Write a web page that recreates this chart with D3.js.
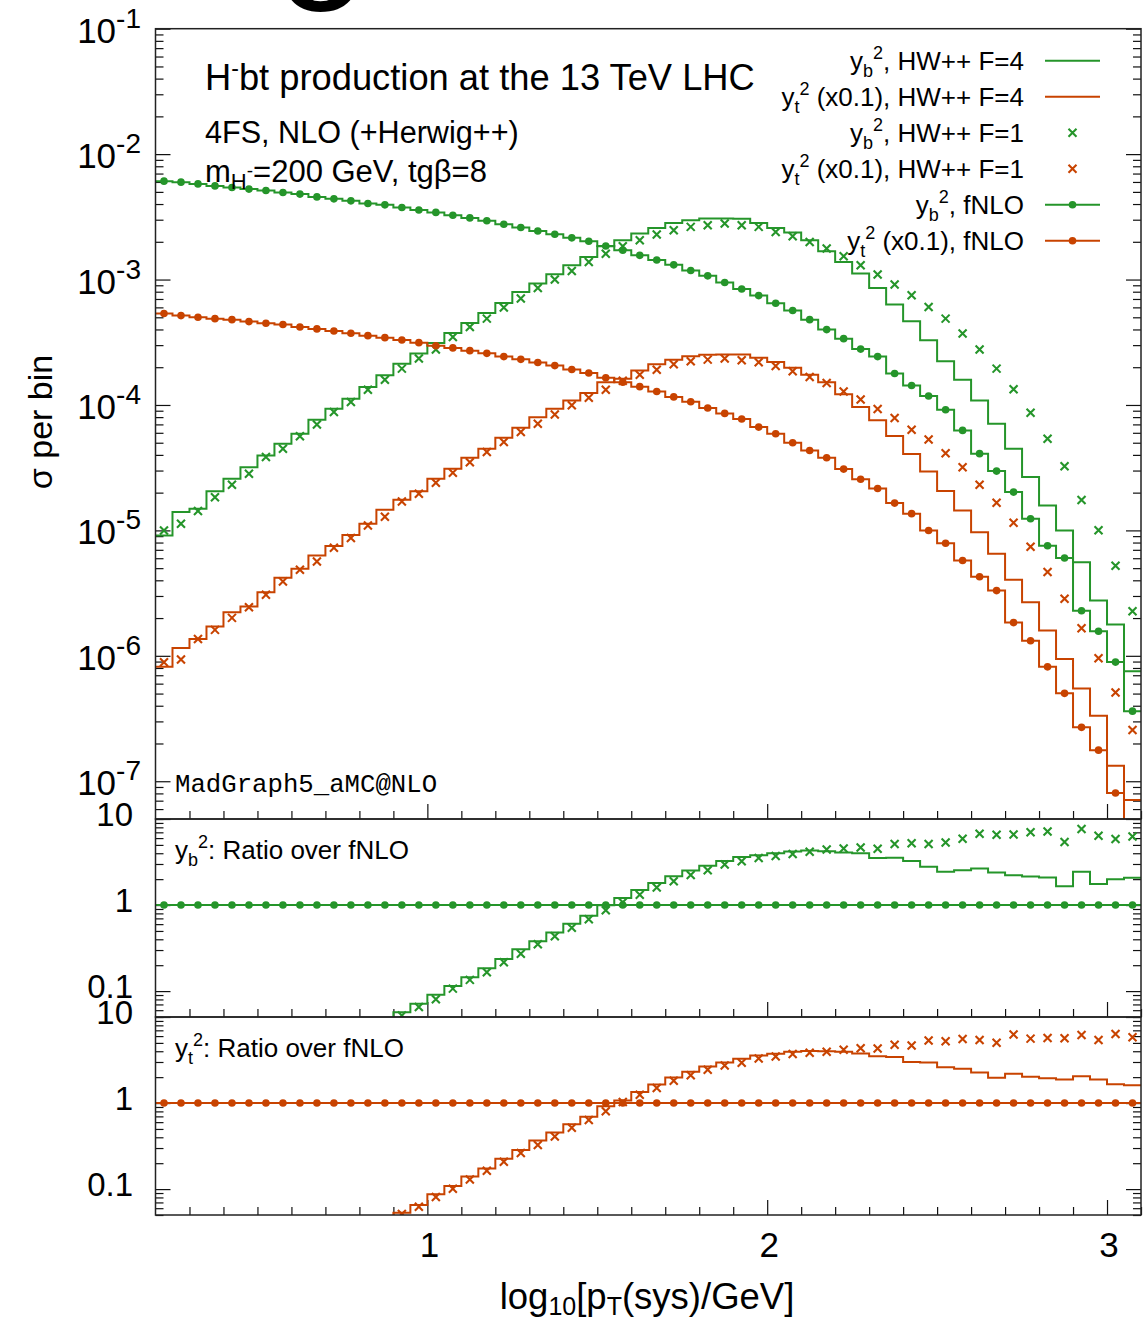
<!DOCTYPE html>
<html><head><meta charset="utf-8">
<script src="https://cdn.jsdelivr.net/npm/d3@7"></script>
<style>
body{margin:0;background:#fff}
svg text{font-family:"Liberation Sans",Arial,Helvetica,sans-serif;fill:#000}
</style>
</head><body>
<svg id="c" width="1148" height="1321"></svg>
<script>
// ---------------- DATA ----------------
// lower edges of the log10[pT/GeV] bins (bin width 0.05), last bin ends at 3.10
const binLowEdges = [0.20,0.25,0.30,0.35,0.40,0.45,0.50,0.55,0.60,0.65,0.70,0.75,0.80,0.85,0.90,0.95,
  1.00,1.05,1.10,1.15,1.20,1.25,1.30,1.35,1.40,1.45,1.50,1.55,1.60,1.65,1.70,1.75,1.80,1.85,1.90,1.95,
  2.00,2.05,2.10,2.15,2.20,2.25,2.30,2.35,2.40,2.45,2.50,2.55,2.60,2.65,2.70,2.75,2.80,2.85,2.90,2.95,3.00,3.05];
const binUpperLast = 3.10;

// y_b^2, fNLO
const ybFNLO = [6.09e-3,5.98e-3,5.79e-3,5.58e-3,5.42e-3,5.26e-3,5.13e-3,4.95e-3,4.80e-3,4.56e-3,
  4.40e-3,4.24e-3,4.04e-3,3.94e-3,3.75e-3,3.59e-3,3.43e-3,3.26e-3,3.10e-3,2.94e-3,
  2.76e-3,2.60e-3,2.44e-3,2.30e-3,2.15e-3,2.02e-3,1.85e-3,1.71e-3,1.56e-3,1.43e-3,
  1.31e-3,1.18e-3,1.07e-3,9.46e-4,8.41e-4,7.45e-4,6.47e-4,5.66e-4,4.79e-4,3.99e-4,
  3.38e-4,2.79e-4,2.43e-4,1.78e-4,1.43e-4,1.18e-4,9.17e-5,6.27e-5,4.09e-5,2.97e-5,
  2.02e-5,1.24e-5,7.54e-6,6.02e-6,2.29e-6,1.57e-6,8.91e-7,3.62e-7];
// y_t^2 (x0.1), fNLO
const ytFNLO = [5.36e-4,5.16e-4,5.00e-4,4.88e-4,4.79e-4,4.62e-4,4.48e-4,4.38e-4,4.19e-4,4.04e-4,
  3.89e-4,3.73e-4,3.57e-4,3.44e-4,3.30e-4,3.14e-4,2.97e-4,2.85e-4,2.71e-4,2.58e-4,
  2.43e-4,2.31e-4,2.18e-4,2.06e-4,1.92e-4,1.80e-4,1.65e-4,1.52e-4,1.40e-4,1.28e-4,
  1.16e-4,1.06e-4,9.45e-5,8.57e-5,7.72e-5,6.66e-5,5.90e-5,5.00e-5,4.34e-5,3.80e-5,
  3.08e-5,2.56e-5,2.16e-5,1.65e-5,1.36e-5,9.98e-6,7.90e-6,5.75e-6,4.27e-6,3.31e-6,
  1.84e-6,1.32e-6,8.17e-7,5.02e-7,2.69e-7,1.77e-7,8.05e-8,4.4e-8];
// y_b^2, HW++ F=4
const ybHW4 = [9.11e-6,1.402e-5,1.487e-5,2.056e-5,2.58e-5,3.19e-5,3.96e-5,4.91e-5,5.90e-5,7.63e-5,
  9.34e-5,1.123e-4,1.39e-4,1.723e-4,2.136e-4,2.567e-4,3.119e-4,3.748e-4,4.504e-4,5.41e-4,
  6.51e-4,7.96e-4,9.29e-4,1.102e-3,1.30e-3,1.515e-3,1.845e-3,2.059e-3,2.33e-3,2.58e-3,
  2.83e-3,2.974e-3,3.067e-3,3.067e-3,3.05e-3,2.83e-3,2.58e-3,2.372e-3,2.059e-3,1.682e-3,
  1.382e-3,1.117e-3,8.57e-4,6.32e-4,4.65e-4,3.28e-4,2.228e-4,1.592e-4,1.088e-4,7.09e-5,
  4.48e-5,2.66e-5,1.58e-5,9.98e-6,5.58e-6,2.757e-6,1.774e-6,7.52e-7];
// y_t^2 (x0.1), HW++ F=4
const ytHW4 = [8.20e-7,1.157e-6,1.364e-6,1.710e-6,2.225e-6,2.47e-6,3.212e-6,4.185e-6,4.94e-6,6.30e-6,
  7.51e-6,9.17e-6,1.129e-5,1.46e-5,1.755e-5,2.056e-5,2.58e-5,3.10e-5,3.80e-5,4.48e-5,
  5.48e-5,6.59e-5,8.0e-5,9.34e-5,1.088e-4,1.245e-4,1.515e-4,1.622e-4,1.882e-4,2.109e-4,
  2.291e-4,2.443e-4,2.51e-4,2.53e-4,2.53e-4,2.376e-4,2.204e-4,1.978e-4,1.745e-4,1.515e-4,
  1.215e-4,9.62e-5,7.54e-5,5.67e-5,4.07e-5,2.953e-5,2.063e-5,1.441e-5,9.67e-6,6.51e-6,
  4.034e-6,2.673e-6,1.589e-6,9.45e-7,5.50e-7,3.332e-7,1.33e-7,7.08e-8];
// y_b^2, HW++ F=1
const ybHW1 = [9.98e-6,1.129e-5,1.428e-5,1.841e-5,2.311e-5,2.83e-5,3.84e-5,4.48e-5,5.62e-5,7.0e-5,
  8.78e-5,1.055e-4,1.325e-4,1.592e-4,1.949e-4,2.342e-4,2.763e-4,3.483e-4,4.185e-4,4.88e-4,
  5.98e-4,7.05e-4,8.57e-4,1.0e-3,1.171e-3,1.382e-3,1.607e-3,1.845e-3,2.059e-3,2.287e-3,
  2.474e-3,2.63e-3,2.713e-3,2.799e-3,2.713e-3,2.63e-3,2.398e-3,2.216e-3,1.996e-3,1.768e-3,
  1.535e-3,1.30e-3,1.096e-3,9.12e-4,7.49e-4,6.04e-4,4.88e-4,3.707e-4,2.763e-4,1.949e-4,
  1.332e-4,8.68e-5,5.38e-5,3.253e-5,1.748e-5,1.004e-5,5.22e-6,2.262e-6];
// y_t^2 (x0.1), HW++ F=1
const ytHW1 = [8.87e-7,9.33e-7,1.364e-6,1.61e-6,2.007e-6,2.438e-6,3.062e-6,3.91e-6,4.85e-6,5.65e-6,
  7.28e-6,8.70e-6,1.094e-5,1.284e-5,1.70e-5,1.96e-5,2.398e-5,2.882e-5,3.50e-5,4.21e-5,
  5.06e-5,6.08e-5,7.09e-5,8.41e-5,9.93e-5,1.144e-4,1.325e-4,1.563e-4,1.745e-4,1.913e-4,
  2.109e-4,2.228e-4,2.299e-4,2.342e-4,2.27e-4,2.188e-4,2.044e-4,1.854e-4,1.67e-4,1.496e-4,
  1.28e-4,1.108e-4,9.27e-5,7.86e-5,6.35e-5,5.31e-5,4.13e-5,3.19e-5,2.311e-5,1.664e-5,
  1.15e-5,7.40e-6,4.66e-6,2.846e-6,1.658e-6,9.55e-7,5.11e-7,2.562e-7];

// tick values / labels
const xMajorTicks = [1, 2, 3];
const xMajorLabels = ["1", "2", "3"];
const xMinorTicks = [0.3,0.4,0.5,0.6,0.7,0.8,0.9,1.1,1.2,1.3,1.4,1.5,1.6,1.7,1.8,1.9,2.1,2.2,2.3,2.4,2.5,2.6,2.7,2.8,2.9,3.1];
const mainMajorTicks = [1e-7,1e-6,1e-5,1e-4,1e-3,1e-2,1e-1];
const mainMajorExp = ["-7","-6","-5","-4","-3","-2","-1"];
const ratioMajorTicks = [0.1, 1, 10];
const ratioMajorLabels = ["0.1", "1", "10"];

const legendItems = [
  {base:"y", sub:"b", rest:", HW++ F=4", color:"green", kind:"line"},
  {base:"y", sub:"t", rest:" (x0.1), HW++ F=4", color:"orange", kind:"line"},
  {base:"y", sub:"b", rest:", HW++ F=1", color:"green", kind:"cross"},
  {base:"y", sub:"t", rest:" (x0.1), HW++ F=1", color:"orange", kind:"cross"},
  {base:"y", sub:"b", rest:", fNLO", color:"green", kind:"linedot"},
  {base:"y", sub:"t", rest:" (x0.1), fNLO", color:"orange", kind:"linedot"}
];

// ---------------- LAYOUT ----------------
const COL = {green:"#25952a", orange:"#c84300"};
const L = 155.5, R = 1141, T = 28.7, B0 = 819, B1 = 1017, B2 = 1215;
const svg = d3.select("#c");
svg.append("rect").attr("width",1148).attr("height",1321).attr("fill","#fff");

const x = d3.scaleLinear().domain([binLowEdges[0], binUpperLast]).range([L, R]);
const yMain = d3.scaleLog().domain([5e-8, 0.1]).range([B0, T]);
const yR1 = d3.scaleLog().domain([0.05, 10]).range([B1, B0]);
const yR2 = d3.scaleLog().domain([0.05, 10]).range([B2, B1]);
const binW = binLowEdges[1] - binLowEdges[0];

const defs = svg.append("defs");
function clip(id, y0, y1){
  defs.append("clipPath").attr("id", id).append("rect")
    .attr("x", L).attr("y", y0).attr("width", R - L).attr("height", y1 - y0);
}
clip("cm", T, B0); clip("c1", B0, B1); clip("c2", B1, B2);

// cropped glyph of a heading above the figure (only its bottom edge is visible)
svg.append("text").attr("x", 321).attr("y", 10).attr("text-anchor", "middle")
  .attr("font-size", 165).text("o");

// minor log ticks
function logMinors(lo, hi){
  const out = [];
  for (let e = Math.floor(Math.log10(lo)) ; e <= Math.ceil(Math.log10(hi)); e++)
    for (let k = 2; k <= 9; k++){ const v = k * Math.pow(10, e); if (v >= lo*0.999 && v <= hi*1.001) out.push(v); }
  return out;
}

function yAxes(scale, majors, minors){
  const g = svg.append("g");
  const add = (axis, tx) => g.append("g").attr("transform", `translate(${tx},0)`).call(axis)
      .call(s => s.select(".domain").remove())
      .call(s => s.selectAll("line").attr("stroke", "#111").attr("stroke-width", 1.2));
  add(d3.axisRight(scale).tickValues(majors).tickSize(15).tickFormat(""), L);
  add(d3.axisRight(scale).tickValues(minors).tickSize(8).tickFormat(""), L);
  add(d3.axisLeft(scale).tickValues(majors).tickSize(15).tickFormat(""), R);
  add(d3.axisLeft(scale).tickValues(minors).tickSize(8).tickFormat(""), R);
}
function xAxisAt(yb){
  const g = svg.append("g");
  const add = (axis) => g.append("g").attr("transform", `translate(0,${yb})`).call(axis)
      .call(s => s.select(".domain").remove())
      .call(s => s.selectAll("line").attr("stroke", "#111").attr("stroke-width", 1.2));
  add(d3.axisTop(x).tickValues(xMajorTicks).tickSize(15).tickFormat(""));
  add(d3.axisTop(x).tickValues(xMinorTicks).tickSize(8).tickFormat(""));
}

yAxes(yMain, mainMajorTicks, logMinors(5e-8, 0.1));
yAxes(yR1, ratioMajorTicks, logMinors(0.05, 10));
yAxes(yR2, ratioMajorTicks, logMinors(0.05, 10));
xAxisAt(B0); xAxisAt(B1); xAxisAt(B2);

// ---------------- SERIES ----------------
function stepPoints(vals){
  return binLowEdges.map((e, i) => [e, vals[i]]).concat([[binUpperLast, vals[vals.length - 1]]]);
}
function drawStep(g, yS, vals, color){
  g.append("path").datum(stepPoints(vals))
    .attr("d", d3.line().x(d => x(d[0])).y(d => yS(d[1])).curve(d3.curveStepAfter))
    .attr("fill", "none").attr("stroke", color).attr("stroke-width", 2);
}
function drawDots(g, yS, vals, color){
  g.selectAll(null).data(vals).join("circle")
    .attr("cx", (d, i) => x(binLowEdges[i] + binW / 2)).attr("cy", d => yS(d))
    .attr("r", 3.8).attr("fill", color);
}
const crossD = "M-4,-4L4,4M-4,4L4,-4";
function drawCrosses(g, yS, vals, color){
  g.selectAll(null).data(vals).join("path")
    .attr("d", crossD)
    .attr("transform", (d, i) => `translate(${x(binLowEdges[i] + binW / 2)},${yS(d)})`)
    .attr("fill", "none").attr("stroke", color).attr("stroke-width", 2.1);
}

// main panel
const gm = svg.append("g").attr("clip-path", "url(#cm)");
drawStep(gm, yMain, ybHW4, COL.green);
drawStep(gm, yMain, ytHW4, COL.orange);
drawCrosses(gm, yMain, ybHW1, COL.green);
drawCrosses(gm, yMain, ytHW1, COL.orange);
drawStep(gm, yMain, ybFNLO, COL.green); drawDots(gm, yMain, ybFNLO, COL.green);
drawStep(gm, yMain, ytFNLO, COL.orange); drawDots(gm, yMain, ytFNLO, COL.orange);

// ratio panels
const ratio = (a, b) => a.map((v, i) => v / b[i]);
const g1 = svg.append("g").attr("clip-path", "url(#c1)");
drawStep(g1, yR1, ratio(ybHW4, ybFNLO), COL.green);
drawCrosses(g1, yR1, ratio(ybHW1, ybFNLO), COL.green);
drawStep(g1, yR1, ratio(ybFNLO, ybFNLO), COL.green); drawDots(g1, yR1, ratio(ybFNLO, ybFNLO), COL.green);
const g2 = svg.append("g").attr("clip-path", "url(#c2)");
drawStep(g2, yR2, ratio(ytHW4, ytFNLO), COL.orange);
drawCrosses(g2, yR2, ratio(ytHW1, ytFNLO), COL.orange);
drawStep(g2, yR2, ratio(ytFNLO, ytFNLO), COL.orange); drawDots(g2, yR2, ratio(ytFNLO, ytFNLO), COL.orange);

// frames
[[T, B0], [B0, B1], [B1, B2]].forEach(([a, b]) => {
  svg.append("rect").attr("x", L).attr("y", a).attr("width", R - L).attr("height", b - a)
    .attr("fill", "none").attr("stroke", "#222").attr("stroke-width", 1.5);
});

// ---------------- LABELS ----------------
// main y labels
mainMajorTicks.forEach((v, i) => {
  const t = svg.append("text").attr("x", 141).attr("y", yMain(v) + 14)
    .attr("text-anchor", "end").attr("font-size", 35);
  t.append("tspan").text("10");
  t.append("tspan").attr("dy", -15).attr("font-size", 28).text(mainMajorExp[i]);
});
// ratio y labels
[yR1, yR2].forEach(sc => {
  ratioMajorTicks.forEach((v, i) => {
    svg.append("text").attr("x", 133).attr("y", sc(v) + 7)
      .attr("text-anchor", "end").attr("font-size", 33).text(ratioMajorLabels[i]);
  });
});
// x labels
xMajorTicks.forEach((v, i) => {
  svg.append("text").attr("x", x(v) + 2).attr("y", 1257).attr("text-anchor", "middle")
    .attr("font-size", 35).text(xMajorLabels[i]);
});
// x title
{
  const t = svg.append("text").attr("x", 647).attr("y", 1309).attr("text-anchor", "middle").attr("font-size", 36.5);
  t.append("tspan").text("log");
  t.append("tspan").attr("dy", 6).attr("font-size", 25).text("10");
  t.append("tspan").attr("dy", -6).text("[p");
  t.append("tspan").attr("dy", 6).attr("font-size", 25).text("T");
  t.append("tspan").attr("dy", -6).text("(sys)/GeV]");
}
// y title
svg.append("text").attr("transform", "translate(52,422) rotate(-90)")
  .attr("text-anchor", "middle").attr("font-size", 34).text("σ per bin");

// annotations
{
  const t = svg.append("text").attr("x", 205).attr("y", 90).attr("font-size", 36.3);
  t.append("tspan").text("H");
  t.append("tspan").attr("dy", -14).attr("font-size", 23).text("-");
  t.append("tspan").attr("dy", 14).text("bt production at the 13 TeV LHC");
  svg.append("text").attr("x", 205).attr("y", 143).attr("font-size", 30.6).text("4FS, NLO (+Herwig++)");
  const m = svg.append("text").attr("x", 205).attr("y", 182).attr("font-size", 31);
  m.append("tspan").text("m");
  m.append("tspan").attr("dy", 7).attr("font-size", 22).text("H");
  m.append("tspan").attr("dy", -12).attr("font-size", 19).text("-");
  m.append("tspan").attr("dy", 5).text("=200 GeV, tgβ=8");
  svg.append("text").attr("x", 175).attr("y", 792).attr("font-size", 25.7)
    .style("font-family", "'Liberation Mono','Courier New',monospace").text("MadGraph5_aMC@NLO");
}
// ratio panel titles
[["b", B0 + 40], ["t", B1 + 40]].forEach(([s, yy]) => {
  const t = svg.append("text").attr("x", 175).attr("y", yy).attr("font-size", 26);
  t.append("tspan").text("y");
  t.append("tspan").attr("dy", 7).attr("font-size", 18).text(s);
  t.append("tspan").attr("dy", -18).attr("font-size", 18).text("2");
  t.append("tspan").attr("dy", 11).text(": Ratio over fNLO");
});

// legend
legendItems.forEach((it, i) => {
  const yy = 60.7 + i * 36;
  const t = svg.append("text").attr("x", 1024).attr("y", yy + 9.5).attr("text-anchor", "end").attr("font-size", 26);
  t.append("tspan").text(it.base);
  t.append("tspan").attr("dy", 7).attr("font-size", 18).text(it.sub);
  t.append("tspan").attr("dy", -18).attr("font-size", 18).text("2");
  t.append("tspan").attr("dy", 11).text(it.rest);
  const c = COL[it.color];
  if (it.kind !== "cross") svg.append("line").attr("x1", 1045).attr("x2", 1100).attr("y1", yy).attr("y2", yy)
      .attr("stroke", c).attr("stroke-width", 2);
  if (it.kind === "cross") svg.append("path").attr("d", crossD).attr("transform", `translate(1072.5,${yy})`)
      .attr("fill", "none").attr("stroke", c).attr("stroke-width", 2.1);
  if (it.kind === "linedot") svg.append("circle").attr("cx", 1072.5).attr("cy", yy).attr("r", 3.8).attr("fill", c);
});
</script>
</body></html>
